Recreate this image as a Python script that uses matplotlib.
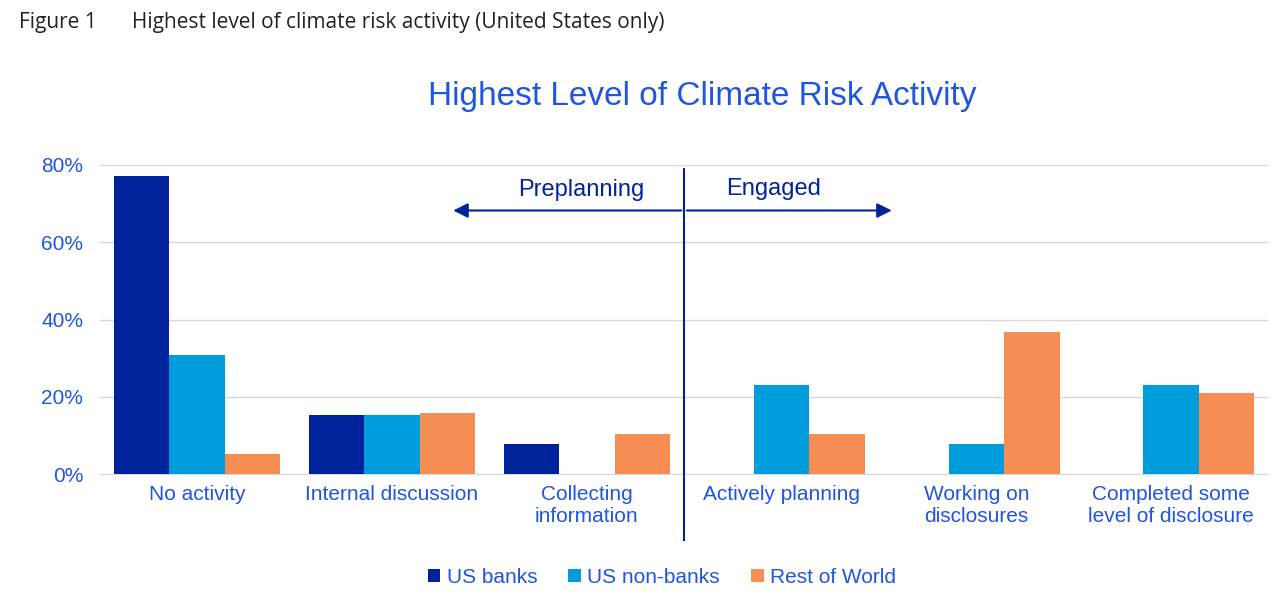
import matplotlib.pyplot as plt
import numpy as np

categories = ['No activity', 'Internal discussion', 'Collecting\ninformation',
              'Actively planning', 'Working on\ndisclosures', 'Completed some\nlevel of disclosure']
us_banks = [77.0, 15.4, 7.7, 0, 0, 0]
us_non_banks = [30.8, 15.4, 0, 23.1, 7.7, 23.1]
rest_of_world = [5.3, 15.8, 10.5, 10.5, 36.8, 21.1]
series_names = ['US banks', 'US non-banks', 'Rest of World']
colors = ['#00239c', '#009ddc', '#f68d52']
text_blue = '#1f55e0'

plt.rcParams['font.family'] = ['Liberation Sans', 'DejaVu Sans']

fig = plt.figure(figsize=(12.8, 6.04), dpi=100)
ax = fig.add_axes([0.078, 0.215, 0.913, 0.512])

x = np.arange(len(categories))
w = 0.285
for i, (vals, name) in enumerate(zip([us_banks, us_non_banks, rest_of_world], series_names)):
    ax.bar(x + (i - 1) * w, vals, w, color=colors[i], label=name, zorder=3)

ax.set_xlim(-0.5, 5.5)
ax.set_ylim(0, 80)
ax.set_yticks([0, 20, 40, 60, 80])
ax.set_yticklabels(['0%', '20%', '40%', '60%', '80%'])
ax.yaxis.grid(True, color='#d9d9d9', linewidth=1, zorder=0)
ax.set_xticks(x)
ax.set_xticklabels(categories)
ax.tick_params(axis='both', length=0, labelsize=15, labelcolor=text_blue)
ax.tick_params(axis='x', pad=8)
ax.tick_params(axis='y', pad=12)
for s in ['top', 'right', 'left']:
    ax.spines[s].set_visible(False)
ax.spines['bottom'].set_color('#d9d9d9')

# divider between preplanning and engaged
ax.plot([2.5, 2.5], [-17, 79], color='#00239c', linewidth=1.5, clip_on=False, zorder=4)
ax.annotate('', xy=(1.3, 68.2), xytext=(2.5, 68.2),
            arrowprops=dict(arrowstyle='-|>', color='#00239c', lw=1.5, mutation_scale=22))
ax.annotate('', xy=(3.58, 68.2), xytext=(2.5, 68.2),
            arrowprops=dict(arrowstyle='-|>', color='#00239c', lw=1.5, mutation_scale=22))
ax.text(1.97, 73.5, 'Preplanning', ha='center', va='center', fontsize=17, color='#00239c')
ax.text(2.96, 73.8, 'Engaged', ha='center', va='center', fontsize=17, color='#00239c')

fig.text(0.549, 0.84, 'Highest Level of Climate Risk Activity', ha='center', va='center',
         fontsize=24, color=text_blue)
fig.text(0.015, 0.962, 'Figure 1', ha='left', va='center', fontsize=15, color='#222222',
         family=['Open Sans', 'DejaVu Sans'])
fig.text(0.103, 0.962, 'Highest level of climate risk activity (United States only)', ha='left',
         va='center', fontsize=15, color='#222222', family=['Open Sans', 'DejaVu Sans'])

leg = fig.legend(loc='center', bbox_to_anchor=(0.517, 0.044), ncol=3, frameon=False,
                 fontsize=15, handlelength=0.6, handleheight=0.6, handletextpad=0.3,
                 columnspacing=1.5)
for t in leg.get_texts():
    t.set_color(text_blue)

fig.savefig('out.png', dpi=100)
